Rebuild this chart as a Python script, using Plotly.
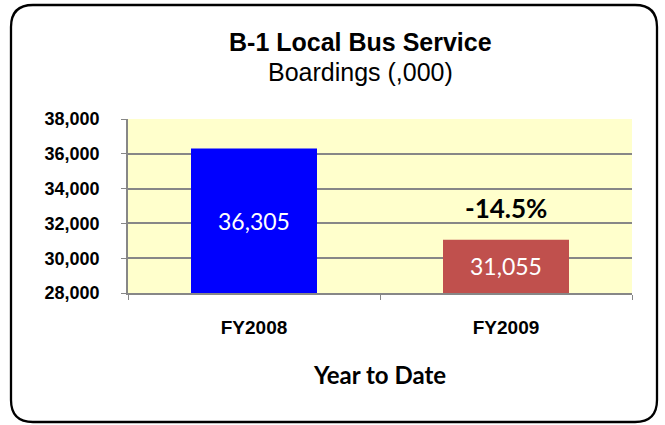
import plotly.graph_objects as go

categories = ["FY2008", "FY2009"]
boardings = [36305, 31055]
bar_colors = ["#0000FF", "#C0504D"]
value_labels = ["36,305", "31,055"]
change_label = "-14.5%"
y_ticks = [28000, 30000, 32000, 34000, 36000, 38000]
y_min, y_max = 28000, 38000

W, H = 665, 425
ML, MR, MT, MB = 128, 33, 119, 132
PW, PH = W - ML - MR, H - MT - MB

def px(x):
    return (x - ML) / PW

def py(y):
    return (H - MB - y) / PH

ARIAL = "Liberation Sans, Arial, sans-serif"
CALIBRI = "Lato, Open Sans, sans-serif"

fig = go.Figure()
fig.add_trace(go.Bar(
    x=categories, y=boardings,
    marker=dict(color=bar_colors, line=dict(width=0)),
    hoverinfo="skip", width=0.5,
))

for c, v, lab in zip(categories, boardings, value_labels):
    fig.add_annotation(x=c, y=(y_min + v) / 2, text=lab, showarrow=False,
                       font=dict(family=CALIBRI, size=23, color="white"))

fig.add_annotation(x=categories[1], y=boardings[1], text="<b>" + change_label + "</b>",
                   showarrow=False, yanchor="middle", yshift=32,
                   font=dict(family=CALIBRI, size=26, color="black"))

# rounded border
x0, x1, y0, y1, r = 11, 657, 5, 422, 22
path = (f"M {px(x0+r)},{py(y0)} L {px(x1-r)},{py(y0)} Q {px(x1)},{py(y0)} {px(x1)},{py(y0+r)} "
        f"L {px(x1)},{py(y1-r)} Q {px(x1)},{py(y1)} {px(x1-r)},{py(y1)} "
        f"L {px(x0+r)},{py(y1)} Q {px(x0)},{py(y1)} {px(x0)},{py(y1-r)} "
        f"L {px(x0)},{py(y0+r)} Q {px(x0)},{py(y0)} {px(x0+r)},{py(y0)} Z")
fig.add_shape(type="path", path=path, xref="paper", yref="paper",
              line=dict(color="black", width=2.3), layer="above")

xs = 360 - (ML + PW / 2)
fig.add_annotation(x=0.5, xref="paper", y=py(42), yref="paper", showarrow=False,
                   xanchor="center", yanchor="middle",
                   text="<b>B-1 Local Bus Service</b>", xshift=xs,
                   font=dict(family=ARIAL, size=25, color="black"))
fig.add_annotation(x=0.5, xref="paper", y=py(72), yref="paper", showarrow=False,
                   xanchor="center", yanchor="middle",
                   text="Boardings (,000)", xshift=xs,
                   font=dict(family=ARIAL, size=25, color="black"))

fig.update_layout(
    width=W, height=H,
    margin=dict(l=ML, r=MR, t=MT, b=MB),
    paper_bgcolor="white", plot_bgcolor="#FFFFCC",
    showlegend=False,
    xaxis=dict(
        type="category", tickson="boundaries", ticks="outside", ticklen=5,
        tickcolor="#878787", showline=True, linecolor="#878787", linewidth=1.5,
        showgrid=False,
        tickfont=dict(family=ARIAL, size=19, color="black", weight="bold"),
        ticklabelstandoff=16,
        title=dict(text="Year to Date", standoff=31,
                   font=dict(family=CALIBRI, size=24, color="black", weight="bold")),
    ),
    yaxis=dict(
        range=[y_min, y_max], tickvals=y_ticks, tickformat=",d",
        ticks="outside", ticklen=5, tickcolor="#878787",
        showline=True, linecolor="#878787", linewidth=1.5,
        showgrid=True, gridcolor="#878787", gridwidth=1.5,
        tickfont=dict(family=ARIAL, size=18, color="black", weight="bold"),
        ticklabelstandoff=18,
        zeroline=False,
    ),
)

fig.write_html("out.html", config={"displayModeBar": False},
               post_script="document.body.style.margin='0px';")
